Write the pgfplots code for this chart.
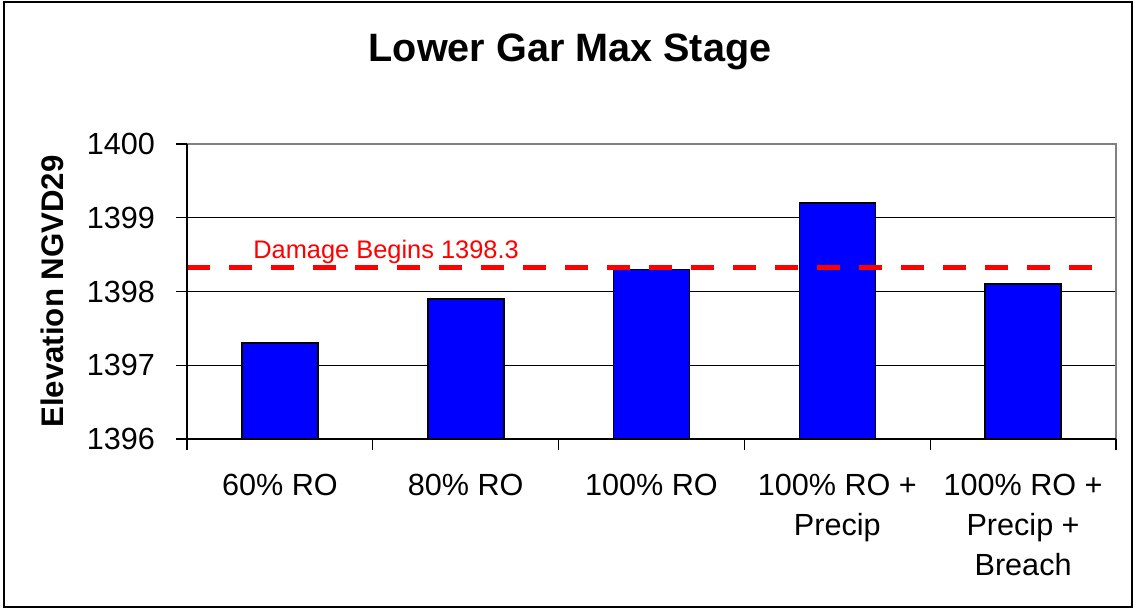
\documentclass[border=0pt]{standalone}
\usepackage{pgfplots}
\pgfplotsset{compat=1.18}
\usepackage{fontspec}
\setmainfont{Liberation Sans}
\begin{document}
\begin{tikzpicture}
\useasboundingbox (-93.5pt,-85pt) rectangle (473pt,219.5pt);
\draw[line width=1pt] (-91.5pt,-84pt) rectangle (472.5pt,218.5pt);
\begin{axis}[
  at={(0pt,0pt)}, anchor=south west,
  scale only axis,
  width=464.5pt, height=147.5pt,
  xmin=-0.5, xmax=4.5,
  ymin=1396, ymax=1400,
  ytick={1396,1397,1398,1399,1400},
  xtick={-0.5,0.5,1.5,2.5,3.5,4.5},
  xticklabels={},
  extra x ticks={0,1,2,3,4},
  extra x tick labels={60\% RO, 80\% RO, 100\% RO, {100\% RO +\\Precip}, {100\% RO +\\Precip +\\Breach}},
  extra x tick style={major tick length=0pt, grid=none},
  major tick length=5.5pt,
  tick align=outside,
  tick pos=left,
  tick style={black, line width=0.6pt},
  ymajorgrids,
  grid style={black, line width=0.6pt},
  axis line style={line width=0.8pt},
  /pgf/number format/assume math mode=true,
  /pgf/number format/1000 sep={},
  ticklabel style={font=\fontsize{15.3pt}{20pt}\selectfont},
  x tick label style={align=center, yshift=-14pt},
  y tick label style={xshift=-7pt},
  ylabel={\textbf{Elevation NGVD29}},
  ylabel style={at={(axis description cs:-0.1448,0.5)}, anchor=center, font=\fontsize{15.6pt}{18pt}\selectfont},
  clip=false,
]
\addplot[ybar, bar width=38pt, fill={rgb,255:red,0;green,0;blue,255}, draw=black, line width=0.8pt]
  coordinates {(0,1397.3) (1,1397.9) (2,1398.3) (3,1399.2) (4,1398.1)};
\addplot[red, line width=2.5pt, dash pattern=on 11.5pt off 9.5pt]
  coordinates {(-0.5,1398.33) (4.47,1398.33)};
\draw[gray, line width=1.2pt] (rel axis cs:0,1) -- (rel axis cs:1,1) -- (rel axis cs:1,0);
\draw[black, line width=0.8pt] (rel axis cs:0,1) -- (rel axis cs:0,0) -- (rel axis cs:1,0);
\node[red, anchor=base west, inner sep=0pt, font=\fontsize{12.7pt}{14pt}\selectfont] at (axis cs:-0.145,1398.45) {Damage Begins 1398.3};
\end{axis}
\node[anchor=base, inner sep=0pt, font=\fontsize{19.8pt}{22pt}\selectfont\bfseries] at (191.5pt,188.5pt) {Lower Gar Max Stage};
\end{tikzpicture}
\end{document}
